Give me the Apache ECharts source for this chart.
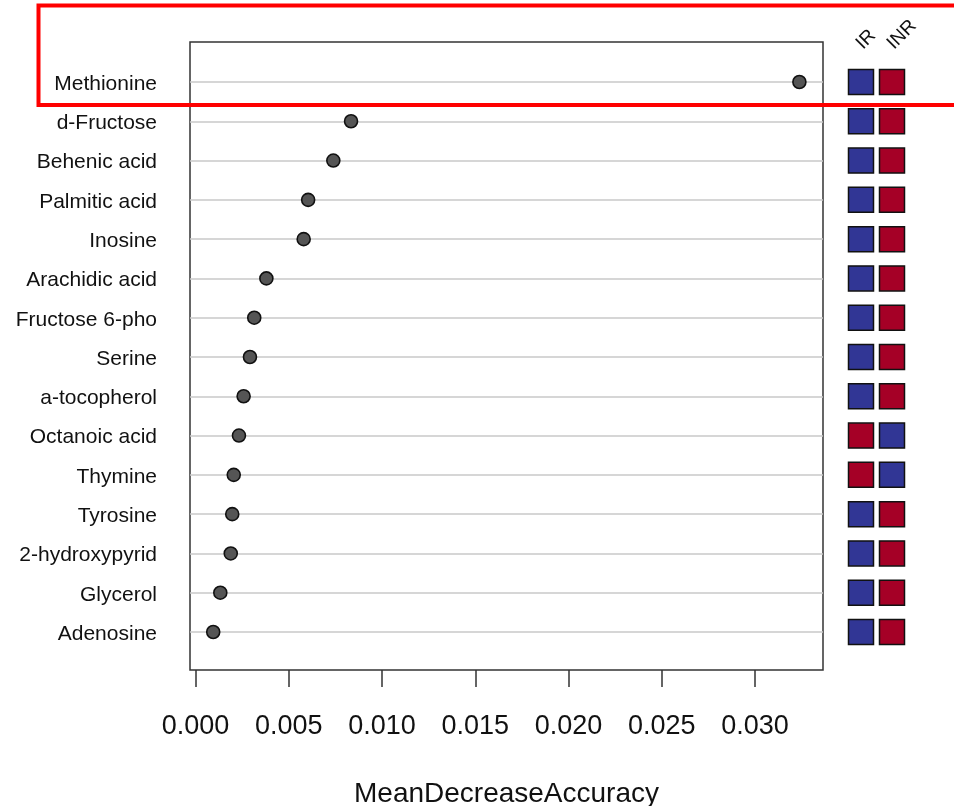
<!DOCTYPE html>
<html>
<head>
<meta charset="utf-8">
<title>MeanDecreaseAccuracy</title>
<script src="https://cdn.jsdelivr.net/npm/echarts@6/dist/echarts.min.js"></script>
<style>
  html, body { margin: 0; padding: 0; background: #ffffff; overflow: hidden; }
  #chart { width: 954px; height: 806px; }
</style>
</head>
<body>
<div id="chart"></div>
<script>
// Features ranked by importance, listed top to bottom
const features = [
  'Methionine', 'd-Fructose', 'Behenic acid', 'Palmitic acid', 'Inosine',
  'Arachidic acid', 'Fructose 6-pho', 'Serine', 'a-tocopherol', 'Octanoic acid',
  'Thymine', 'Tyrosine', '2-hydroxypyrid', 'Glycerol', 'Adenosine'
];
const meanDecreaseAccuracy = [
  0.03238, 0.00834, 0.00739, 0.00604, 0.00580,
  0.00380, 0.00315, 0.00292, 0.00258, 0.00233,
  0.00205, 0.00197, 0.00189, 0.00133, 0.00095
];
// Relative group level of each feature
const groups = ['IR', 'INR'];
const levelIR = [
  'low', 'low', 'low', 'low', 'low', 'low', 'low', 'low', 'low', 'high',
  'high', 'low', 'low', 'low', 'low'
];
const levelINR = [
  'high', 'high', 'high', 'high', 'high', 'high', 'high', 'high', 'high', 'low',
  'low', 'high', 'high', 'high', 'high'
];
const xTicks = [0, 0.005, 0.010, 0.015, 0.020, 0.025, 0.030];

const levelColor = { low: '#313695', high: '#A50026' };
const FONT = "'Liberation Sans', Arial, Helvetica, sans-serif";
const n = features.length;
const rowPos = features.map((_, i) => n - i);   // top row gets the largest position
const yMin = 0.0327, yMax = 16.018;

const dots = features.map((f, i) => [meanDecreaseAccuracy[i], rowPos[i]]);
const cells = [];
[levelIR, levelINR].forEach((levels, c) => {
  levels.forEach((lv, i) => {
    cells.push({ value: [c, rowPos[i]], itemStyle: { color: levelColor[lv] } });
  });
});

const chart = echarts.init(document.getElementById('chart'), null, { renderer: 'canvas' });
chart.setOption({
  animation: false,
  backgroundColor: '#ffffff',
  textStyle: { fontFamily: FONT },
  grid: [
    { left: 190, right: 131, top: 42, bottom: 136, show: true, outerBoundsMode: 'none',
      containLabel: false,
      borderColor: '#333333', borderWidth: 1.5, backgroundColor: 'transparent' },
    { left: 845.5, right: 46.5, top: 42, bottom: 136, show: false, outerBoundsMode: 'none',
      containLabel: false }
  ],
  xAxis: [
    {
      type: 'value', gridIndex: 0, min: -0.000295, max: 0.033646,
      axisLine: { show: false },
      splitLine: { show: false },
      axisTick: { show: true, length: 17, customValues: xTicks,
        lineStyle: { color: '#333333', width: 1.5 } },
      axisLabel: { customValues: xTicks, margin: 43, fontSize: 27, color: '#111111',
        fontFamily: FONT, formatter: v => v.toFixed(3) },
      name: 'MeanDecreaseAccuracy', nameLocation: 'middle', nameGap: 110,
      nameTextStyle: { fontSize: 28, color: '#111111', fontFamily: FONT }
    },
    {
      type: 'value', gridIndex: 1, min: -0.5, max: 1.5,
      show: false
    }
  ],
  yAxis: [
    {
      type: 'value', gridIndex: 0, min: yMin, max: yMax,
      axisLine: { show: false }, axisTick: { show: false }, splitLine: { show: false },
      axisLabel: { customValues: rowPos, margin: 33,
        formatter: v => '{name|' + features[n - Math.round(v)] + '}',
        rich: { name: { fontSize: 21, color: '#111111', fontFamily: FONT,
          padding: [4, 0, 0, 0] } } }
    },
    {
      type: 'value', gridIndex: 1, min: yMin, max: yMax, show: false
    }
  ],
  series: [
    {
      type: 'scatter', xAxisIndex: 0, yAxisIndex: 0, data: dots,
      symbol: 'circle', symbolSize: 13, z: 5,
      itemStyle: { color: '#555555', borderColor: '#111111', borderWidth: 1.6, opacity: 1 },
      markLine: {
        silent: true, symbol: ['none', 'none'], label: { show: false },
        lineStyle: { color: '#c8c8c8', width: 1.5, type: 'solid' },
        emphasis: { disabled: true },
        data: rowPos.map(p => ({ yAxis: p }))
      }
    },
    {
      type: 'scatter', xAxisIndex: 1, yAxisIndex: 1, data: cells,
      symbol: 'rect', symbolSize: 25,
      itemStyle: { borderColor: '#111111', borderWidth: 1.5, opacity: 1 }
    }
  ]
});

// Slanted group names above the heat-map columns, placed through the column axis
const headerY = chart.convertToPixel({ gridIndex: 1 }, [0, yMax])[1] + 11;
const headers = groups.map((g, c) => ({
  type: 'text', silent: true, z: 50,
  x: chart.convertToPixel({ xAxisIndex: 1 }, c) + 5,
  y: headerY,
  rotation: Math.PI / 4,
  style: { text: g, fill: '#111111', font: "19px " + FONT,
    textAlign: 'left', textVerticalAlign: 'bottom' }
}));

chart.setOption({
  graphic: headers.concat([
    { type: 'rect', left: 36, top: 3, silent: true, z: 100,
      shape: { x: 0, y: 0, width: 940, height: 99.5 },
      style: { fill: 'none', stroke: '#ff0000', lineWidth: 4 } }
  ])
});
</script>
</body>
</html>
